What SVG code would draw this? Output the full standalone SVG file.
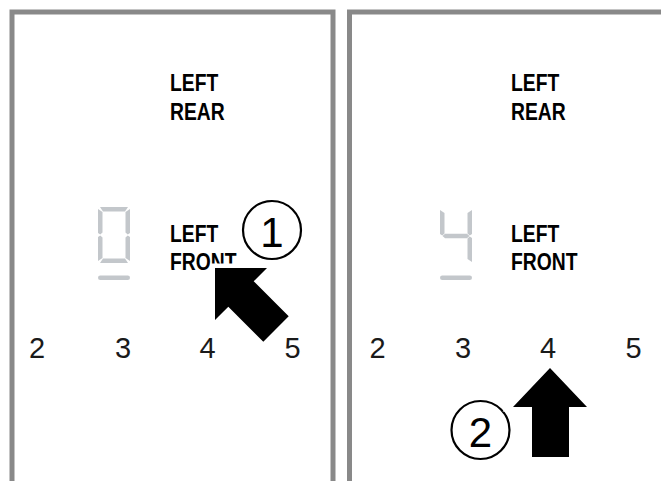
<svg xmlns="http://www.w3.org/2000/svg" width="661" height="481" viewBox="0 0 661 481">
<defs>
<style>
.frame{fill:none;stroke:#898989;stroke-width:5}
.lbl{font-family:"Liberation Sans",Arial,sans-serif;font-weight:bold;font-size:23px;fill:#000}
.num{font-family:"Liberation Sans",Arial,sans-serif;font-size:29px;fill:#1a1a1a;text-anchor:middle}
.cnum{font-family:"Liberation Sans",Arial,sans-serif;font-size:42px;fill:#000;text-anchor:middle}
.seg{fill:#c3c7cb}
.ring{fill:#fff;stroke:#000;stroke-width:2.2}
.arrow{fill:#000;stroke:#fff;stroke-width:9;paint-order:stroke;stroke-linejoin:miter}
</style>
<path id="sa" d="M2,0 H30 L27,4.5 H5 Z"/>
<path id="sf" d="M0,2 L4.5,5 V25.5 L2.25,27.5 L0,26 Z"/>
<path id="sb" d="M32,2 V26 L29.75,27.5 L27.5,25.5 V5 Z"/>
<path id="sg" d="M2.5,28 L5,25.75 H27 L29.5,28 L27,30.25 H5 Z"/>
<path id="se" d="M0,30 L2.25,28.5 L4.5,30.5 V51 L0,54 Z"/>
<path id="sc" d="M32,30 V54 L27.5,51 V30.5 L29.75,28.5 Z"/>
<path id="sd" d="M2,56 L5,51.5 H27 L30,56 Z"/>
</defs>
<rect width="661" height="481" fill="#fff"/>

<g id="panel-left">
<path class="frame" d="M12,481 V12 H333 V481"/>
<g id="left-rear-1"><text class="lbl" transform="translate(170,91) scale(0.84,1)">LEFT</text><text class="lbl" transform="translate(170,120) scale(0.84,1)">REAR</text></g>
<g id="display-0" class="seg">
<g transform="translate(98,207)"><use href="#sa"/><use href="#sf"/><use href="#sb"/><use href="#se"/><use href="#sc"/><use href="#sd"/></g>
<rect x="98" y="275.5" width="32" height="4.5" rx="2.25"/>
</g>
<g id="left-front-1"><text class="lbl" transform="translate(170,241.5) scale(0.84,1)">LEFT</text><text class="lbl" transform="translate(170,270) scale(0.84,1)">FRONT</text></g>
<g id="scale-1"><text class="num" x="37" y="357.5">2</text><text class="num" x="123" y="357.5">3</text><text class="num" x="207.5" y="357.5">4</text><text class="num" x="292.5" y="357.5">5</text></g>
<g id="marker-1"><circle class="ring" cx="272" cy="230" r="29"/><text class="cnum" x="272" y="246.5">1</text></g>
</g>

<g id="panel-right">
<path class="frame" d="M349.5,481 V12 H661"/>
<g id="left-rear-2"><text class="lbl" transform="translate(511,91) scale(0.84,1)">LEFT</text><text class="lbl" transform="translate(511,120) scale(0.84,1)">REAR</text></g>
<g id="display-4" class="seg">
<g transform="translate(440,208)"><use href="#sf"/><use href="#sb"/><use href="#sg"/><use href="#sc"/></g>
<rect x="440" y="275.5" width="32" height="4.5" rx="2.25"/>
</g>
<g id="left-front-2"><text class="lbl" transform="translate(511,241.5) scale(0.84,1)">LEFT</text><text class="lbl" transform="translate(511,270) scale(0.84,1)">FRONT</text></g>
<g id="scale-2"><text class="num" x="377.5" y="357.5">2</text><text class="num" x="463" y="357.5">3</text><text class="num" x="548" y="357.5">4</text><text class="num" x="633.5" y="357.5">5</text></g>
<g id="marker-2"><circle class="ring" cx="480.5" cy="430" r="29"/><text class="cnum" x="480.5" y="446.5">2</text></g>
</g>

<g id="connectors">
<polygon class="arrow" points="215,268 267,268 253.7,281.3 288.7,316.3 263.3,341.7 228.3,306.7 215,320"/>
<polygon class="arrow" points="550,368 587,407 569,407 569,457 532,457 532,407 513,407"/>
</g>
</svg>
